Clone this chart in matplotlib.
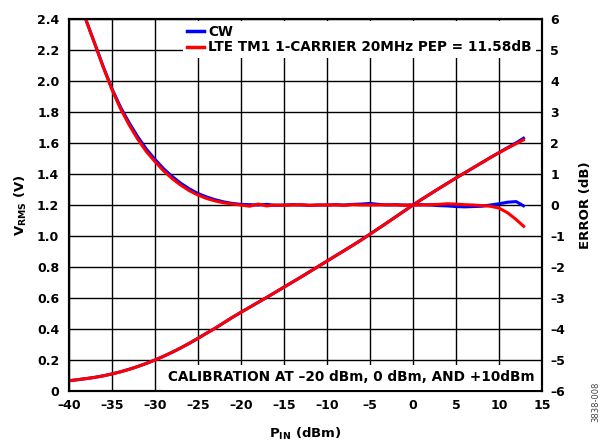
import matplotlib
matplotlib.use("Agg")
import matplotlib.pyplot as plt
from matplotlib.lines import Line2D

plt.rcParams["font.family"] = ["DejaVu Sans"]
plt.rcParams["font.weight"] = "bold"
plt.rcParams["mathtext.fontset"] = "custom"
plt.rcParams["mathtext.rm"] = "DejaVu Sans:bold"
plt.rcParams["mathtext.bf"] = "DejaVu Sans:bold"

# ---------------------------------------------------------------------------
# data
# ---------------------------------------------------------------------------
pin_dbm = list(range(-40, 14))

vrms_cw = [0.066, 0.073, 0.080, 0.088, 0.098, 0.110, 0.124, 0.140, 0.158, 0.178,
           0.200, 0.224, 0.250, 0.278, 0.308, 0.340, 0.373, 0.405, 0.440, 0.475,
           0.508, 0.540, 0.572, 0.604, 0.637, 0.670, 0.703, 0.736, 0.770, 0.804,
           0.838, 0.872, 0.906, 0.940, 0.975, 1.012, 1.049, 1.086, 1.124, 1.162,
           1.200, 1.236, 1.271, 1.306, 1.340, 1.374, 1.407, 1.440, 1.473, 1.506,
           1.538, 1.570, 1.601, 1.636]
vrms_lte = [0.066, 0.073, 0.080, 0.088, 0.098, 0.110, 0.124, 0.140, 0.158, 0.178,
            0.200, 0.224, 0.250, 0.278, 0.308, 0.340, 0.373, 0.405, 0.440, 0.475,
            0.508, 0.540, 0.572, 0.604, 0.637, 0.670, 0.703, 0.736, 0.770, 0.804,
            0.838, 0.872, 0.906, 0.940, 0.975, 1.012, 1.049, 1.086, 1.124, 1.162,
            1.200, 1.236, 1.271, 1.306, 1.340, 1.374, 1.407, 1.440, 1.473, 1.506,
            1.537, 1.567, 1.596, 1.624]

err_cw = [7.9, 6.9, 5.95, 5.2, 4.45, 3.75, 3.15, 2.65, 2.2, 1.8,
          1.47, 1.17, 0.92, 0.70, 0.52, 0.37, 0.26, 0.17, 0.10, 0.05,
          0.02, 0.01, 0.00, 0.02, -0.01, 0.00, 0.01, 0.00, -0.01, 0.00,
          0.00, 0.01, 0.00, 0.02, 0.03, 0.05, 0.02, 0.00, 0.01, 0.00,
          0.00, 0.01, 0.00, -0.02, -0.03, -0.05, -0.06, -0.05, -0.04, 0.00,
          0.04, 0.09, 0.11, -0.05]
err_lte = [7.9, 6.9, 5.95, 5.2, 4.43, 3.72, 3.10, 2.58, 2.12, 1.72,
           1.40, 1.10, 0.85, 0.64, 0.46, 0.32, 0.21, 0.13, 0.07, 0.03,
           0.00, -0.04, 0.03, -0.03, 0.00, -0.01, 0.00, 0.01, -0.01, 0.00,
           0.00, 0.00, -0.01, 0.01, 0.00, 0.00, 0.00, 0.01, 0.00, -0.01,
           0.00, 0.00, 0.01, 0.02, 0.04, 0.03, 0.01, 0.00, -0.02, -0.04,
           -0.10, -0.25, -0.47, -0.72]

x_ticks = [-40, -35, -30, -25, -20, -15, -10, -5, 0, 5, 10, 15]
x_tick_labels = ["–40", "–35", "–30", "–25", "–20", "–15", "–10", "–5",
                 "0", "5", "10", "15"]
v_ticks = [0, 0.2, 0.4, 0.6, 0.8, 1.0, 1.2, 1.4, 1.6, 1.8, 2.0, 2.2, 2.4]
v_tick_labels = ["0", "0.2", "0.4", "0.6", "0.8", "1.0", "1.2", "1.4", "1.6",
                 "1.8", "2.0", "2.2", "2.4"]
e_ticks = list(range(-6, 7))
e_tick_labels = ["–6", "–5", "–4", "–3", "–2", "–1", "0", "1", "2", "3", "4",
                 "5", "6"]

series_names = ["CW", "LTE TM1 1-CARRIER 20MHz PEP = 11.58dB"]
note = "CALIBRATION AT –20 dBm, 0 dBm, AND +10dBm"

BLUE = "#0000ff"
RED = "#ff0000"

# ---------------------------------------------------------------------------
fig = plt.figure(figsize=(6.01, 4.41), dpi=100)
ax = fig.add_axes([0.1148, 0.1134, 0.787, 0.8435])
ax2 = ax.twinx()

ax.plot(pin_dbm, vrms_cw, color=BLUE, lw=2.2, solid_capstyle="butt")
ax.plot(pin_dbm, vrms_lte, color=RED, lw=2.2, solid_capstyle="butt")
ax2.plot(pin_dbm, err_cw, color=BLUE, lw=2.2, solid_capstyle="butt")
ax2.plot(pin_dbm, err_lte, color=RED, lw=2.2, solid_capstyle="butt")

ax.set_xlim(-40, 15)
ax.set_ylim(0, 2.4)
ax2.set_ylim(-6, 6)

ax.set_xticks(x_ticks)
ax.set_xticklabels(x_tick_labels)
ax.set_yticks(v_ticks)
ax.set_yticklabels(v_tick_labels)
ax2.set_yticks(e_ticks)
ax2.set_yticklabels(e_tick_labels)

ax.grid(True, color="black", lw=1.0)
ax.tick_params(axis="both", length=0, labelsize=9, pad=7)
ax.tick_params(axis="x", pad=6)
ax2.tick_params(axis="y", length=0, labelsize=9, pad=6)
for a in (ax, ax2):
    for s in a.spines.values():
        s.set_linewidth(1.5)

ax.set_ylabel(r"V$_{\mathbf{RMS}}$ (V)", fontsize=9.5, fontweight="bold")
ax.yaxis.set_label_coords(-0.084, 0.5)
ax.set_xlabel(r"P$_{\mathbf{IN}}$ (dBm)", fontsize=9.5, fontweight="bold")
ax.xaxis.set_label_coords(0.5, -0.094)
ax2.set_ylabel("ERROR (dB)", fontsize=9.5, fontweight="bold")
ax2.yaxis.set_label_coords(1.078, 0.5)

handles = [Line2D([], [], color=BLUE, lw=2.5), Line2D([], [], color=RED, lw=2.5)]
leg = ax2.legend(handles, series_names, loc="upper left",
                 bbox_to_anchor=(0.24, 0.995), borderaxespad=0, borderpad=0.3,
                 handlelength=1.3, handletextpad=0.3, labelspacing=0.1,
                 fancybox=False, framealpha=1, facecolor="white",
                 edgecolor="none", prop={"weight": "bold", "size": 9.8})

ax2.text(0.985, 0.018, note, transform=ax2.transAxes, ha="right", va="bottom",
         fontsize=9.8, fontweight="bold",
         bbox=dict(facecolor="white", edgecolor="none", pad=4))

fig.text(0.992, 0.088, "3838-008", rotation=90, fontsize=6, color="#444444",
         fontweight="normal", ha="center", va="center")

fig.savefig("out.png", dpi=100)
